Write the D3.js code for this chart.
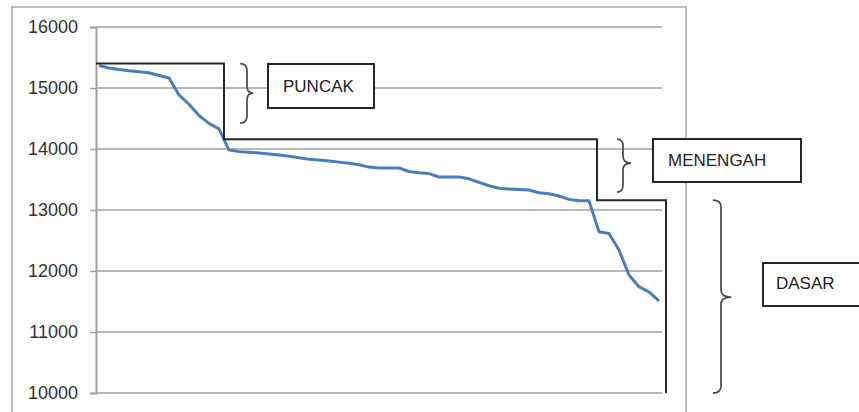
<!DOCTYPE html>
<html>
<head>
<meta charset="utf-8">
<script src="https://cdn.jsdelivr.net/npm/d3@7"></script>
<style>
  body { margin: 0; background: #fff; }
  svg { display: block; font-family: "Liberation Sans", Arial, sans-serif; }
</style>
</head>
<body>
<svg width="859" height="412"></svg>
<script>
// sorted values, one per category
const values = [
  15369, 15328, 15303, 15283, 15267, 15249, 15205, 15164, 14887, 14734,
  14549, 14420, 14330, 13982, 13957, 13946, 13936, 13918, 13900, 13880,
  13856, 13833, 13820, 13805, 13785, 13765, 13741, 13703, 13688, 13688,
  13688, 13631, 13611, 13597, 13541, 13541, 13541, 13511, 13452, 13398,
  13357, 13346, 13336, 13328, 13283, 13267, 13229, 13174, 13152, 13150,
  12643, 12615, 12344, 11934, 11743, 11656, 11510
];
const yTicks = [10000, 11000, 12000, 13000, 14000, 15000, 16000];

// level staircase: names, upper limit and last category index of each level
const levelNames = ["PUNCAK", "MENENGAH", "DASAR"];
const levelTop = [15400, 14160, 13160];
const levelEnd = [12.5, 49.8, 56.7];

const svg = d3.select("svg"),
      margin = { top: 27, left: 96 },
      width = 566,
      height = 366;

// chart frame
svg.append("rect")
  .attr("x", 12).attr("y", 7)
  .attr("width", 674).attr("height", 430)
  .attr("fill", "none")
  .attr("stroke", "#a6a6a6")
  .attr("stroke-width", 1.5);

const g = svg.append("g").attr("transform", `translate(${margin.left},${margin.top})`);

const x = d3.scaleLinear().domain([-0.3, values.length - 0.7]).range([0, width]);
const y = d3.scaleLinear().domain([10000, 16000]).range([height, 0]);

// grid + y axis
const yAxis = g.append("g")
  .call(d3.axisLeft(y).tickValues(yTicks).tickSize(6).tickPadding(12).tickFormat(d3.format("d")));
yAxis.select(".domain").attr("stroke", "#a0a0a0").attr("stroke-width", 2);
yAxis.selectAll(".tick line").attr("stroke", "#a0a0a0").attr("stroke-width", 1.5);
yAxis.selectAll(".tick text")
  .attr("fill", "#333")
  .style("font-size", "18px");

g.append("g")
  .selectAll("line")
  .data(yTicks)
  .enter()
  .append("line")
  .attr("x1", 0).attr("x2", width)
  .attr("y1", d => y(d)).attr("y2", d => y(d))
  .attr("stroke", "#a0a0a0")
  .attr("stroke-width", 1.5);

// data line
const line = d3.line().x((d, i) => x(i)).y(d => y(d));
g.append("path")
  .datum(values)
  .attr("fill", "none")
  .attr("stroke", "#4a7ebb")
  .attr("stroke-width", 3)
  .attr("stroke-linejoin", "round")
  .attr("d", line);

// staircase of levels
let steps = [[0, y(levelTop[0])]];
levelTop.forEach((t, i) => {
  const xe = x(levelEnd[i]);
  steps.push([xe, y(t)]);
  steps.push([xe, i < levelTop.length - 1 ? y(levelTop[i + 1]) : y(10000)]);
});
g.append("path")
  .attr("fill", "none")
  .attr("stroke", "#262626")
  .attr("stroke-width", 2)
  .attr("d", d3.line()(steps));

// braces
function brace(x0, xm, xt, y0, y1, ym) {
  const r = 7;
  return `M${x0},${y0} Q${xm},${y0} ${xm},${y0 + r} L${xm},${ym - r} Q${xm},${ym} ${xt},${ym}` +
         ` Q${xm},${ym} ${xm},${ym + r} L${xm},${y1 - r} Q${xm},${y1} ${x0},${y1}`;
}
const braces = [
  { x0: 240, xm: 247, xt: 253, y0: margin.top + y(levelTop[0]), y1: 123, ym: 93 },
  { x0: 617, xm: 623, xt: 631, y0: margin.top + y(levelTop[1]), y1: 192, ym: 163 },
  { x0: 713, xm: 721, xt: 731, y0: margin.top + y(levelTop[2]), y1: margin.top + y(10000), ym: 297 }
];
svg.selectAll(".brace")
  .data(braces)
  .enter()
  .append("path")
  .attr("class", "brace")
  .attr("fill", "none")
  .attr("stroke", "#4d4d4d")
  .attr("stroke-width", 1.75)
  .attr("d", d => brace(d.x0, d.xm, d.xt, d.y0, d.y1, d.ym));

// label boxes
const boxes = [
  { x: 268, y: 64, w: 106, h: 44, tx: 283, ty: 92 },
  { x: 653, y: 139, w: 148, h: 43, tx: 668, ty: 166 },
  { x: 763, y: 263, w: 110, h: 43, tx: 776, ty: 289 }
];
const box = svg.selectAll(".label-box")
  .data(boxes)
  .enter()
  .append("g")
  .attr("class", "label-box");
box.append("rect")
  .attr("x", d => d.x).attr("y", d => d.y)
  .attr("width", d => d.w).attr("height", d => d.h)
  .attr("fill", "#fff")
  .attr("stroke", "#262626")
  .attr("stroke-width", 2);
box.append("text")
  .attr("x", d => d.tx).attr("y", d => d.ty)
  .attr("fill", "#222")
  .style("font-size", "17px")
  .text((d, i) => levelNames[i]);
</script>
</body>
</html>
